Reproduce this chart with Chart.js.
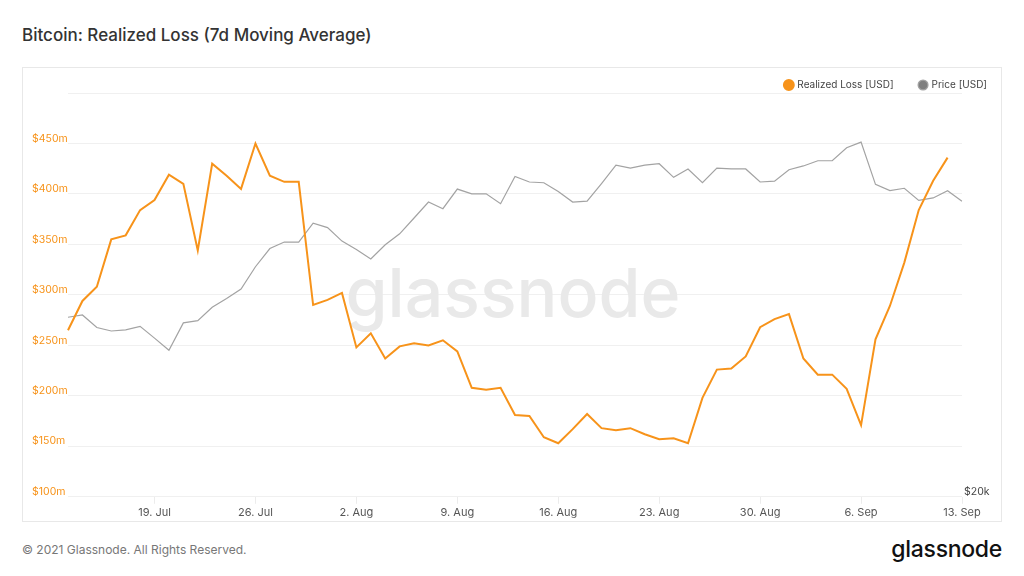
<!DOCTYPE html>
<html>
<head>
<meta charset="utf-8">
<script src="https://cdn.jsdelivr.net/npm/chart.js@4"></script>
<style>
  html, body { margin: 0; padding: 0; background: #fff; }
  body { width: 1024px; height: 576px; position: relative; overflow: hidden; font-family: Inter, "Noto Sans", sans-serif; }
  .title { position: absolute; left: 22px; top: 25px; font-size: 17px; font-weight: 500; color: #333; }
  .card { position: absolute; left: 22px; top: 67px; width: 978px; height: 453px; border: 1px solid #e8e8e8; }
  .card canvas { position: absolute; left: 0; top: 0; }
  .footer { position: absolute; left: 22px; top: 542px; font-size: 12px; color: #777; }
  .logo { position: absolute; right: 22px; top: 535px; font-size: 23px; font-weight: 500; color: #111; letter-spacing: -0.3px; }
</style>
</head>
<body>
<div class="title">Bitcoin: Realized Loss (7d Moving Average)</div>
<div class="card"><canvas id="chart" width="978" height="453"></canvas></div>
<div class="footer">© 2021 Glassnode. All Rights Reserved.</div>
<div class="logo">glassnode</div>
<script>
// daily points, 13 Jul 2021 .. 13 Sep 2021
const dates = [
  '13. Jul','14. Jul','15. Jul','16. Jul','17. Jul','18. Jul','19. Jul','20. Jul','21. Jul','22. Jul',
  '23. Jul','24. Jul','25. Jul','26. Jul','27. Jul','28. Jul','29. Jul','30. Jul','31. Jul',
  '1. Aug','2. Aug','3. Aug','4. Aug','5. Aug','6. Aug','7. Aug','8. Aug','9. Aug','10. Aug',
  '11. Aug','12. Aug','13. Aug','14. Aug','15. Aug','16. Aug','17. Aug','18. Aug','19. Aug','20. Aug',
  '21. Aug','22. Aug','23. Aug','24. Aug','25. Aug','26. Aug','27. Aug','28. Aug','29. Aug','30. Aug','31. Aug',
  '1. Sep','2. Sep','3. Sep','4. Sep','5. Sep','6. Sep','7. Sep','8. Sep','9. Sep','10. Sep',
  '11. Sep','12. Sep','13. Sep'
];
const tickDates = ['19. Jul','26. Jul','2. Aug','9. Aug','16. Aug','23. Aug','30. Aug','6. Sep','13. Sep'];

// realized loss, USD millions
const realizedLoss = [
  265, 294, 308, 355, 359, 384, 394, 419, 410, 344,
  430, 418, 405, 450, 418, 412, 412, 290, 295,
  302, 248, 262, 237, 249, 252, 250, 255, 244, 208,
  206, 208, 181, 180, 159, 153, 167, 182, 168, 166,
  168, 162, 157, 158, 153, 198, 226, 227, 239, 268, 276,
  281, 237, 221, 221, 207, 171, 256, 289, 332, 384,
  413, 436, null
];

// price, USD thousands
const price = [
  32.6, 32.8, 31.7, 31.4, 31.5, 31.8, 30.8, 29.8, 32.1, 32.3,
  33.5, 34.3, 35.2, 37.4, 39.3, 40.0, 40.0, 42.1, 41.6,
  40.1, 39.2, 38.2, 39.7, 40.9, 42.7, 44.6, 43.8, 46.2, 45.6,
  45.6, 44.4, 47.8, 47.1, 47.0, 45.9, 44.6, 44.7, 46.9, 49.3,
  48.9, 49.3, 49.5, 47.7, 48.8, 47.0, 48.9, 48.8, 48.8, 47.1, 47.2,
  48.7, 49.2, 49.9, 49.9, 51.7, 52.5, 46.8, 46.0, 46.3, 44.8,
  45.1, 46.0, 44.7
];

const lossTicks = [100, 150, 200, 250, 300, 350, 400, 450];
const priceTicks = [20];

const orange = '#f7931a';
const grey = '#a3a3a3';
const gridColor = '#f0f0f0';

// faint brand name behind the lines
const watermark = {
  id: 'watermark',
  beforeDatasetsDraw(chart) {
    const { ctx, chartArea } = chart;
    ctx.save();
    ctx.font = '500 68px Inter, "Noto Sans", sans-serif';
    ctx.fillStyle = '#e9e9e9';
    ctx.textAlign = 'center';
    ctx.textBaseline = 'alphabetic';
    ctx.fillText('glassnode', (chartArea.left + chartArea.right) / 2 - 2, (chartArea.top + chartArea.bottom) / 2 + 22);
    ctx.restore();
  }
};

// legend: wide gap between items but a short box
const legendHeight = {
  id: 'legendHeight',
  afterInit(chart) {
    const lg = chart.legend;
    if (!lg) return;
    const fit = lg.fit.bind(lg);
    lg.fit = function () {
      fit();
      this.height = 39;
    };
  }
};

new Chart(document.getElementById('chart'), {
  type: 'line',
  data: {
    labels: dates,
    datasets: [
      {
        label: 'Realized Loss [USD]',
        data: realizedLoss,
        yAxisID: 'y',
        borderColor: orange,
        backgroundColor: orange,
        borderWidth: 2,
        pointRadius: 0,
        tension: 0
      },
      {
        label: 'Price [USD]',
        data: price,
        yAxisID: 'y1',
        borderColor: grey,
        backgroundColor: '#7f7f7f',
        borderWidth: 1.2,
        pointRadius: 0,
        tension: 0
      }
    ]
  },
  options: {
    responsive: false,
    animation: false,
    layout: { padding: { left: 9, right: -12, top: -14, bottom: 0 } },
    plugins: {
      tooltip: { enabled: false },
      legend: {
        position: 'top',
        align: 'end',
        labels: {
          usePointStyle: true,
          pointStyle: 'circle',
          boxWidth: 7,
          boxHeight: 7,
          padding: 26,
          color: '#444',
          font: { family: 'Inter', size: 10 }
        }
      }
    },
    scales: {
      x: {
        type: 'category',
        offset: false,
        border: { display: false },
        grid: {
          drawOnChartArea: false,
          drawTicks: true,
          tickLength: 7,
          color: (c) => (c.tick && tickDates.includes(dates[c.index]) ? '#ececec' : 'rgba(0,0,0,0)')
        },
        ticks: {
          autoSkip: false,
          maxRotation: 0,
          padding: 2,
          color: '#555',
          font: { family: 'Inter', size: 11 },
          callback: (v, i) => (tickDates.includes(dates[i]) ? dates[i] : '')
        }
      },
      y: {
        position: 'left',
        min: 100,
        max: 500,
        border: { display: false },
        grid: { color: gridColor, drawTicks: false },
        afterBuildTicks: (axis) => {
          axis.ticks = lossTicks.concat([500]).map((v) => ({ value: v }));
        },
        afterFit: (axis) => { axis.width = 36; },
        ticks: {
          padding: 1,
          crossAlign: 'far',
          labelOffset: -5,
          color: orange,
          font: { family: 'Inter', size: 10.5 },
          callback: (v) => (lossTicks.includes(v) ? '$' + v + 'm' : '')
        }
      },
      y1: {
        type: 'logarithmic',
        position: 'right',
        min: 20,
        max: 60,
        border: { display: false },
        grid: { drawOnChartArea: false, drawTicks: false },
        afterBuildTicks: (axis) => {
          axis.ticks = priceTicks.map((v) => ({ value: v }));
        },
        afterFit: (axis) => { axis.width = 51; },
        ticks: {
          padding: 2,
          labelOffset: -5,
          color: '#444',
          font: { family: 'Inter', size: 10.5 },
          callback: (v) => '$' + v + 'k'
        }
      }
    }
  },
  plugins: [watermark, legendHeight]
});
</script>
</body>
</html>
